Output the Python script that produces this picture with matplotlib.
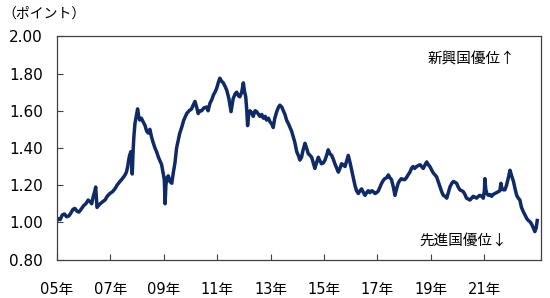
import matplotlib
matplotlib.use("Agg")
import matplotlib.pyplot as plt

plt.rcParams['font.family'] = ['Noto Sans CJK JP', 'DejaVu Sans']

dates = [
    2005.00, 2005.05, 2005.12, 2005.20, 2005.28, 2005.36, 2005.45, 2005.52, 2005.60, 2005.67,
    2005.75, 2005.82, 2005.90, 2006.00, 2006.08, 2006.17, 2006.25, 2006.30, 2006.36, 2006.42,
    2006.45, 2006.48, 2006.50, 2006.55, 2006.62, 2006.70, 2006.80, 2006.88, 2006.98, 2007.08,
    2007.17, 2007.25, 2007.36, 2007.45, 2007.55, 2007.60, 2007.65, 2007.68, 2007.72, 2007.77,
    2007.80, 2007.82, 2007.85, 2007.88, 2007.92, 2007.97, 2008.02, 2008.06, 2008.10, 2008.16,
    2008.23, 2008.30, 2008.36, 2008.42, 2008.48, 2008.54, 2008.60, 2008.67, 2008.73, 2008.80,
    2008.86, 2008.92, 2008.98, 2009.02, 2009.05, 2009.08, 2009.12, 2009.17, 2009.23, 2009.30,
    2009.36, 2009.42, 2009.48, 2009.54, 2009.60, 2009.67, 2009.75, 2009.86, 2009.95, 2010.04,
    2010.10, 2010.17, 2010.23, 2010.29, 2010.35, 2010.42, 2010.50, 2010.60, 2010.66, 2010.73,
    2010.80, 2010.86, 2010.92, 2010.98, 2011.04, 2011.10, 2011.16, 2011.23, 2011.30, 2011.36,
    2011.44, 2011.52, 2011.56, 2011.60, 2011.67, 2011.73, 2011.80, 2011.85, 2011.92, 2011.98,
    2012.03, 2012.07, 2012.11, 2012.14, 2012.18, 2012.23, 2012.29, 2012.35, 2012.42, 2012.48,
    2012.55, 2012.60, 2012.67, 2012.73, 2012.80, 2012.85, 2012.92, 2012.98, 2013.04, 2013.10,
    2013.16, 2013.23, 2013.30, 2013.35, 2013.42, 2013.48, 2013.54, 2013.60, 2013.67, 2013.73,
    2013.79, 2013.85, 2013.91, 2013.98, 2014.04, 2014.10, 2014.16, 2014.22, 2014.29, 2014.35,
    2014.41, 2014.48, 2014.54, 2014.60, 2014.66, 2014.72, 2014.79, 2014.85, 2014.91, 2014.98,
    2015.04, 2015.10, 2015.16, 2015.22, 2015.29, 2015.35, 2015.41, 2015.48, 2015.54, 2015.60,
    2015.66, 2015.72, 2015.79, 2015.85, 2015.91, 2015.98, 2016.04, 2016.10, 2016.16, 2016.22,
    2016.29, 2016.35, 2016.41, 2016.48, 2016.54, 2016.60, 2016.66, 2016.72, 2016.79, 2016.85,
    2016.91, 2016.98, 2017.04, 2017.10, 2017.16, 2017.22, 2017.28, 2017.35, 2017.41, 2017.47,
    2017.53, 2017.60, 2017.66, 2017.72, 2017.78, 2017.84, 2017.90, 2017.97, 2018.03, 2018.09,
    2018.15, 2018.22, 2018.28, 2018.34, 2018.40, 2018.47, 2018.53, 2018.60, 2018.66, 2018.72,
    2018.79, 2018.85, 2018.91, 2018.97, 2019.04, 2019.10, 2019.16, 2019.22, 2019.28, 2019.35,
    2019.41, 2019.47, 2019.54, 2019.60, 2019.66, 2019.72, 2019.79, 2019.85, 2019.91, 2019.97,
    2020.03, 2020.09, 2020.16, 2020.22, 2020.28, 2020.34, 2020.41, 2020.47, 2020.53, 2020.59,
    2020.66, 2020.72, 2020.78, 2020.84, 2020.91, 2020.97, 2021.01, 2021.03, 2021.06, 2021.10,
    2021.16, 2021.22, 2021.28, 2021.34, 2021.40, 2021.47, 2021.53, 2021.59, 2021.63, 2021.67,
    2021.72, 2021.78, 2021.84, 2021.90, 2021.97, 2022.03, 2022.10, 2022.16, 2022.22, 2022.28,
    2022.34, 2022.40, 2022.47, 2022.53, 2022.60, 2022.66, 2022.72, 2022.78, 2022.85, 2022.90,
    2022.95, 2022.99,
]

values = [
    1.01, 1.02, 1.015, 1.04, 1.045, 1.03, 1.035, 1.05, 1.07, 1.075,
    1.06, 1.055, 1.07, 1.09, 1.10, 1.12, 1.11, 1.10, 1.14, 1.17,
    1.19, 1.12, 1.08, 1.09, 1.10, 1.11, 1.12, 1.14, 1.155, 1.165,
    1.18, 1.20, 1.22, 1.235, 1.255, 1.27, 1.30, 1.33, 1.36, 1.38,
    1.33, 1.26, 1.38, 1.46, 1.53, 1.57, 1.61, 1.57, 1.55, 1.56,
    1.54, 1.52, 1.49, 1.48, 1.50, 1.46, 1.43, 1.40, 1.38, 1.35,
    1.33, 1.31, 1.26, 1.23, 1.10, 1.20, 1.24, 1.25, 1.22, 1.21,
    1.27, 1.32, 1.40, 1.44, 1.48, 1.51, 1.55, 1.585, 1.60, 1.61,
    1.63, 1.65, 1.62, 1.585, 1.60, 1.60, 1.615, 1.62, 1.60, 1.64,
    1.66, 1.685, 1.70, 1.72, 1.75, 1.775, 1.76, 1.75, 1.73, 1.71,
    1.665, 1.595, 1.63, 1.665, 1.69, 1.70, 1.68, 1.675, 1.70, 1.75,
    1.70, 1.675, 1.60, 1.52, 1.58, 1.60, 1.59, 1.57, 1.60, 1.595,
    1.58, 1.57, 1.58, 1.56, 1.57, 1.55, 1.56, 1.54, 1.53, 1.51,
    1.56, 1.595, 1.62, 1.63, 1.62, 1.60, 1.58, 1.55, 1.53, 1.51,
    1.49, 1.46, 1.43, 1.38, 1.36, 1.335, 1.35, 1.39, 1.425, 1.40,
    1.37, 1.36, 1.35, 1.32, 1.29, 1.32, 1.35, 1.33, 1.315, 1.32,
    1.335, 1.36, 1.39, 1.37, 1.36, 1.34, 1.315, 1.29, 1.27, 1.29,
    1.315, 1.31, 1.30, 1.33, 1.36, 1.32, 1.28, 1.24, 1.20, 1.17,
    1.155, 1.17, 1.18, 1.16, 1.145, 1.16, 1.17, 1.16, 1.17, 1.165,
    1.155, 1.16, 1.17, 1.19, 1.21, 1.225, 1.235, 1.24, 1.255, 1.24,
    1.23, 1.19, 1.145, 1.18, 1.21, 1.225, 1.235, 1.23, 1.23, 1.24,
    1.255, 1.27, 1.29, 1.30, 1.29, 1.30, 1.305, 1.31, 1.30, 1.29,
    1.31, 1.325, 1.31, 1.30, 1.28, 1.265, 1.255, 1.245, 1.22, 1.19,
    1.165, 1.145, 1.14, 1.13, 1.16, 1.19, 1.21, 1.22, 1.215, 1.21,
    1.19, 1.175, 1.17, 1.165, 1.15, 1.13, 1.125, 1.12, 1.13, 1.14,
    1.135, 1.13, 1.14, 1.145, 1.14, 1.13, 1.17, 1.235, 1.18, 1.155,
    1.145, 1.15, 1.14, 1.15, 1.155, 1.16, 1.165, 1.17, 1.21, 1.18,
    1.175, 1.175, 1.20, 1.235, 1.28, 1.25, 1.22, 1.18, 1.145, 1.13,
    1.12, 1.08, 1.057, 1.04, 1.02, 1.01, 1.003, 0.99, 0.968, 0.95,
    0.97, 1.01,
]

x_ticks = [2005, 2007, 2009, 2011, 2013, 2015, 2017, 2019, 2021]
x_labels = ["05年", "07年", "09年", "11年", "13年", "15年", "17年", "19年", "21年"]
y_ticks = [0.80, 1.00, 1.20, 1.40, 1.60, 1.80, 2.00]

fig = plt.figure(figsize=(5.5, 2.98), dpi=100)
ax = fig.add_axes([0.1036, 0.129, 0.88, 0.749])
ax.plot(dates, values, color='#102a66', lw=2.5, solid_joinstyle='round')

ax.set_xlim(2005.0, 2023.13)
ax.set_ylim(0.80, 2.00)
ax.set_xticks(x_ticks)
ax.set_xticklabels(x_labels, family=['DejaVu Sans', 'Noto Sans CJK JP'], fontsize=10.5)
ax.set_yticks(y_ticks)
ax.set_yticklabels([f"{v:.2f}" for v in y_ticks], family=['DejaVu Sans'], fontsize=11)
ax.tick_params(axis='both', direction='in', length=4, width=0.8, color='#404040',
               labelcolor='#000000')
ax.tick_params(axis='y', pad=10)
ax.tick_params(axis='x', pad=16)
for s in ax.spines.values():
    s.set_color('#404040')
    s.set_linewidth(0.9)

ax.text(0.948, 0.895, "新興国優位↑", transform=ax.transAxes, ha='right', va='center',
        fontsize=10.5, color='#000000')
ax.text(0.93, 0.08, "先進国優位↓", transform=ax.transAxes, ha='right', va='center',
        fontsize=10.5, color='#000000')
fig.text(0.005, 0.955, "（ポイント）", ha='left', va='center', fontsize=10, color='#000000')

fig.savefig("out.png", dpi=100)
